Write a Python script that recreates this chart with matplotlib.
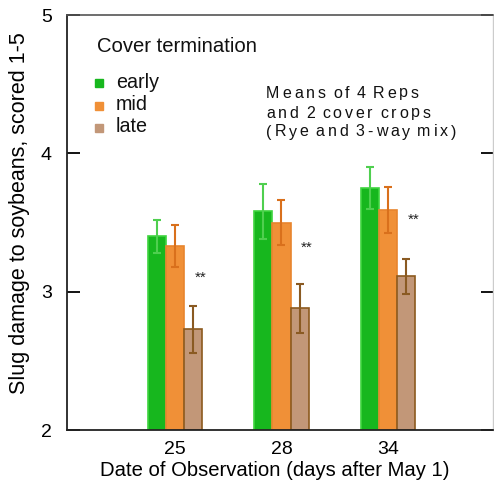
import matplotlib
matplotlib.use("Agg")
import matplotlib.pyplot as plt
from matplotlib.font_manager import FontProperties
import numpy as np

plt.rcParams['font.family'] = ['Liberation Sans', 'DejaVu Sans']

days = ["25", "28", "34"]
series = ["early", "mid", "late"]
means = {
    "early": [3.40, 3.58, 3.75],
    "mid":   [3.33, 3.50, 3.59],
    "late":  [2.73, 2.88, 3.11],
}
errors = {
    "early": [0.12, 0.20, 0.155],
    "mid":   [0.155, 0.165, 0.165],
    "late":  [0.17, 0.175, 0.13],
}
signif_y = [3.10, 3.32, 3.52]
yticks = [2, 3, 4, 5]
note_lines = ["Means of 4 Reps", "and 2 cover crops", "(Rye and 3-way mix)"]

face = {"early": "#17b71e", "mid": "#f09037", "late": "#c29778"}
edge = {"early": "#3fd43f", "mid": "#e8852e", "late": "#8c5a1e"}
ecol = {"early": "#4fcf4f", "mid": "#d9701c", "late": "#8a5a22"}

W, H = 494, 486
fig = plt.figure(figsize=(W / 100, H / 100), dpi=100)
ax = fig.add_axes([0.1356, 0.1152, 0.9980 - 0.1356, 0.969 - 0.1152])

x = np.arange(len(days))
w = 0.172
for i, s in enumerate(series):
    xs = x + (i - 1) * w
    ax.bar(xs, np.array(means[s]) - 2, bottom=2, width=w, color=face[s],
           edgecolor=edge[s], linewidth=1.2, zorder=2)
    ax.errorbar(xs, means[s], yerr=errors[s], fmt='none', ecolor=ecol[s],
                elinewidth=1.5, capsize=3, capthick=1.5, zorder=3)

for xi, yv in zip(x, signif_y):
    ax.text(xi + w + 0.065, yv, "**", ha='center', va='center', fontsize=11,
            color='#222222')

ax.set_xlim(-1.014, 2.986)
ax.set_ylim(2, 5)
ax.set_xticks(x)
ax.set_xticklabels(days, fontsize=14)
ax.set_yticks(yticks)
ax.set_yticklabels([str(t) for t in yticks], fontsize=14)
ax.tick_params(axis='x', length=0, pad=8)
ax.tick_params(axis='y', direction='in', length=9, width=1.3, right=True, pad=11)

for side in ("left", "bottom"):
    ax.spines[side].set_color('#222222')
    ax.spines[side].set_linewidth(1.3)
ax.spines["top"].set_color('#555555')
ax.spines["top"].set_linewidth(1.2)
ax.spines["right"].set_color('#cccccc')
ax.spines["right"].set_linewidth(1.0)

ax.set_xlabel("Date of Observation (days after May 1)", fontsize=14.6, labelpad=3)
ax.xaxis.set_label_coords(0.488, -0.075)
ax.xaxis.label.set_va('top')
ax.set_ylabel("Slug damage to soybeans, scored 1-5", fontsize=15.5)
ax.yaxis.set_label_coords(-0.087, 0.523)

# Legend: title plus square markers, placed in pixel positions
def fx(px):
    return px / W

def fy(py):
    return 1 - py / H

fig.text(fx(97), fy(46), "Cover termination", fontsize=14.6, ha='left',
         va='center', color='#111111')
legend_y = [83.5, 105.5, 127.5]
for s, py in zip(series, legend_y):
    fig.add_artist(plt.Line2D([fx(98.5)], [fy(py)], marker='s', markersize=5.5,
                              markerfacecolor=face[s], markeredgecolor=face[s],
                              transform=fig.transFigure))
    fig.text(fx(116), fy(py - 1), s, fontsize=14.2, ha='left', va='center',
             color='#111111')

# Letter-spaced note
renderer = fig.canvas.get_renderer()
fp = FontProperties(family='Liberation Sans', size=11.5)
tracking = 2.9
note_y = [93, 113, 132]
for line, py in zip(note_lines, note_y):
    cx = 266.0
    for ch in line:
        if ch != " ":
            fig.text(fx(cx), fy(py), ch, fontproperties=fp, ha='left',
                     va='center', color='#111111')
            wch, _, _ = renderer.get_text_width_height_descent(ch, fp, ismath=False)
            cx += wch + tracking
        else:
            wch, _, _ = renderer.get_text_width_height_descent("a a", fp, ismath=False)
            wa, _, _ = renderer.get_text_width_height_descent("aa", fp, ismath=False)
            cx += wch - wa

fig.savefig("out.png", dpi=100)
